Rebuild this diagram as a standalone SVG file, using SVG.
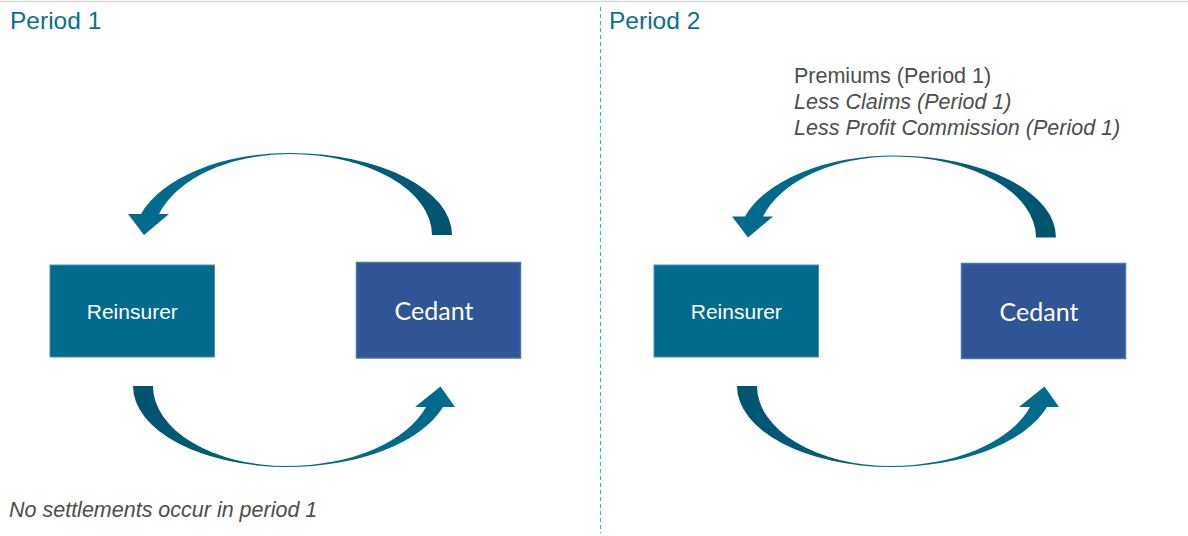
<svg xmlns="http://www.w3.org/2000/svg" width="1188" height="536" viewBox="0 0 1188 536">
  <style>
    .title { font-family: "Liberation Sans", Arial, sans-serif; font-size: 24.5px; fill: #0A6F8E; }
    .note { font-family: "Liberation Sans", Arial, sans-serif; font-size: 21.5px; fill: #4D4D4D; }
    .reins rect { fill: #006B8C; stroke: #4F93AC; stroke-width: 1; }
    .reins text { font-family: "Liberation Sans", Arial, sans-serif; font-size: 21px; fill: #FFFFFF; text-anchor: middle; }
    .cedant rect { fill: #2F5597; stroke: #4A77A3; stroke-width: 1.5; }
    .cedant text { font-family: Lato, "Open Sans", sans-serif; font-size: 25px; fill: #FFFFFF; text-anchor: middle; }
  </style>
  <defs>
    <!-- top arrow: head on the left (lighter), tail on the right (darker) -->
    <linearGradient id="gradTop" gradientUnits="userSpaceOnUse" x1="128" y1="0" x2="452" y2="0">
      <stop offset="0" stop-color="#006B8C"/>
      <stop offset="0.45" stop-color="#00698A"/>
      <stop offset="1" stop-color="#00536D"/>
    </linearGradient>
    <!-- bottom arrow: tail on the left (darker), head on the right (lighter) -->
    <linearGradient id="gradBottom" gradientUnits="userSpaceOnUse" x1="133" y1="0" x2="455" y2="0">
      <stop offset="0" stop-color="#00536D"/>
      <stop offset="0.55" stop-color="#00698A"/>
      <stop offset="1" stop-color="#006B8C"/>
    </linearGradient>
    <path id="arrowTop" fill="url(#gradTop)"
          d="M452,235 A162,82 0 0 0 290,153 A156.2,87 0 0 0 141,214 L128,214 L144,235 L169,214 L159,214 A137.5,86 0 0 1 290,154 A142,81 0 0 1 432,235 Z"/>
    <path id="arrowBottom" fill="url(#gradBottom)"
          d="M133,386 A154,81 0 0 0 287,467 A163.7,86 0 0 0 443,407 L455,407 L440.5,386.5 L415,407 L426,407 A146,85 0 0 1 287,466 A134,80 0 0 1 153,386 Z"/>
  </defs>

  <!-- frame: top rule and period divider -->
  <line x1="0" y1="1.5" x2="1188" y2="1.5" stroke="#D9D9D9" stroke-width="1.5"/>
  <line x1="600.5" y1="7" x2="600.5" y2="533" stroke="#2DB2E0" stroke-width="1" stroke-dasharray="4,3"/>

  <!-- headings and notes -->
  <text class="title" x="10" y="29">Period 1</text>
  <text class="title" x="609" y="29">Period 2</text>
  <text class="note" x="794" y="83">Premiums (Period 1)</text>
  <text class="note" x="794" y="109" font-style="italic">Less Claims (Period 1)</text>
  <text class="note" x="794" y="135" font-style="italic">Less Profit Commission (Period 1)</text>
  <text class="note" x="9" y="517" font-style="italic">No settlements occur in period 1</text>

  <!-- period 1 nodes -->
  <g id="reinsurer-1" class="reins">
    <rect x="50" y="265" width="164.5" height="92"/>
    <text x="132.3" y="318.5">Reinsurer</text>
  </g>
  <g id="cedant-1" class="cedant">
    <rect x="356.5" y="262.5" width="164" height="95.5"/>
    <text x="434" y="320">Cedant</text>
  </g>

  <!-- period 2 nodes -->
  <g id="reinsurer-2" class="reins">
    <rect x="654" y="265" width="164.5" height="92"/>
    <text x="736.3" y="318.5">Reinsurer</text>
  </g>
  <g id="cedant-2" class="cedant">
    <rect x="961.5" y="263.5" width="164" height="95"/>
    <text x="1039" y="320.5">Cedant</text>
  </g>

  <!-- connectors: curved flow arrows -->
  <g id="connectors">
    <use href="#arrowTop"/>
    <use href="#arrowBottom"/>
    <use href="#arrowTop" transform="translate(604,2.5)"/>
    <use href="#arrowBottom" transform="translate(604,0)"/>
  </g>
</svg>
